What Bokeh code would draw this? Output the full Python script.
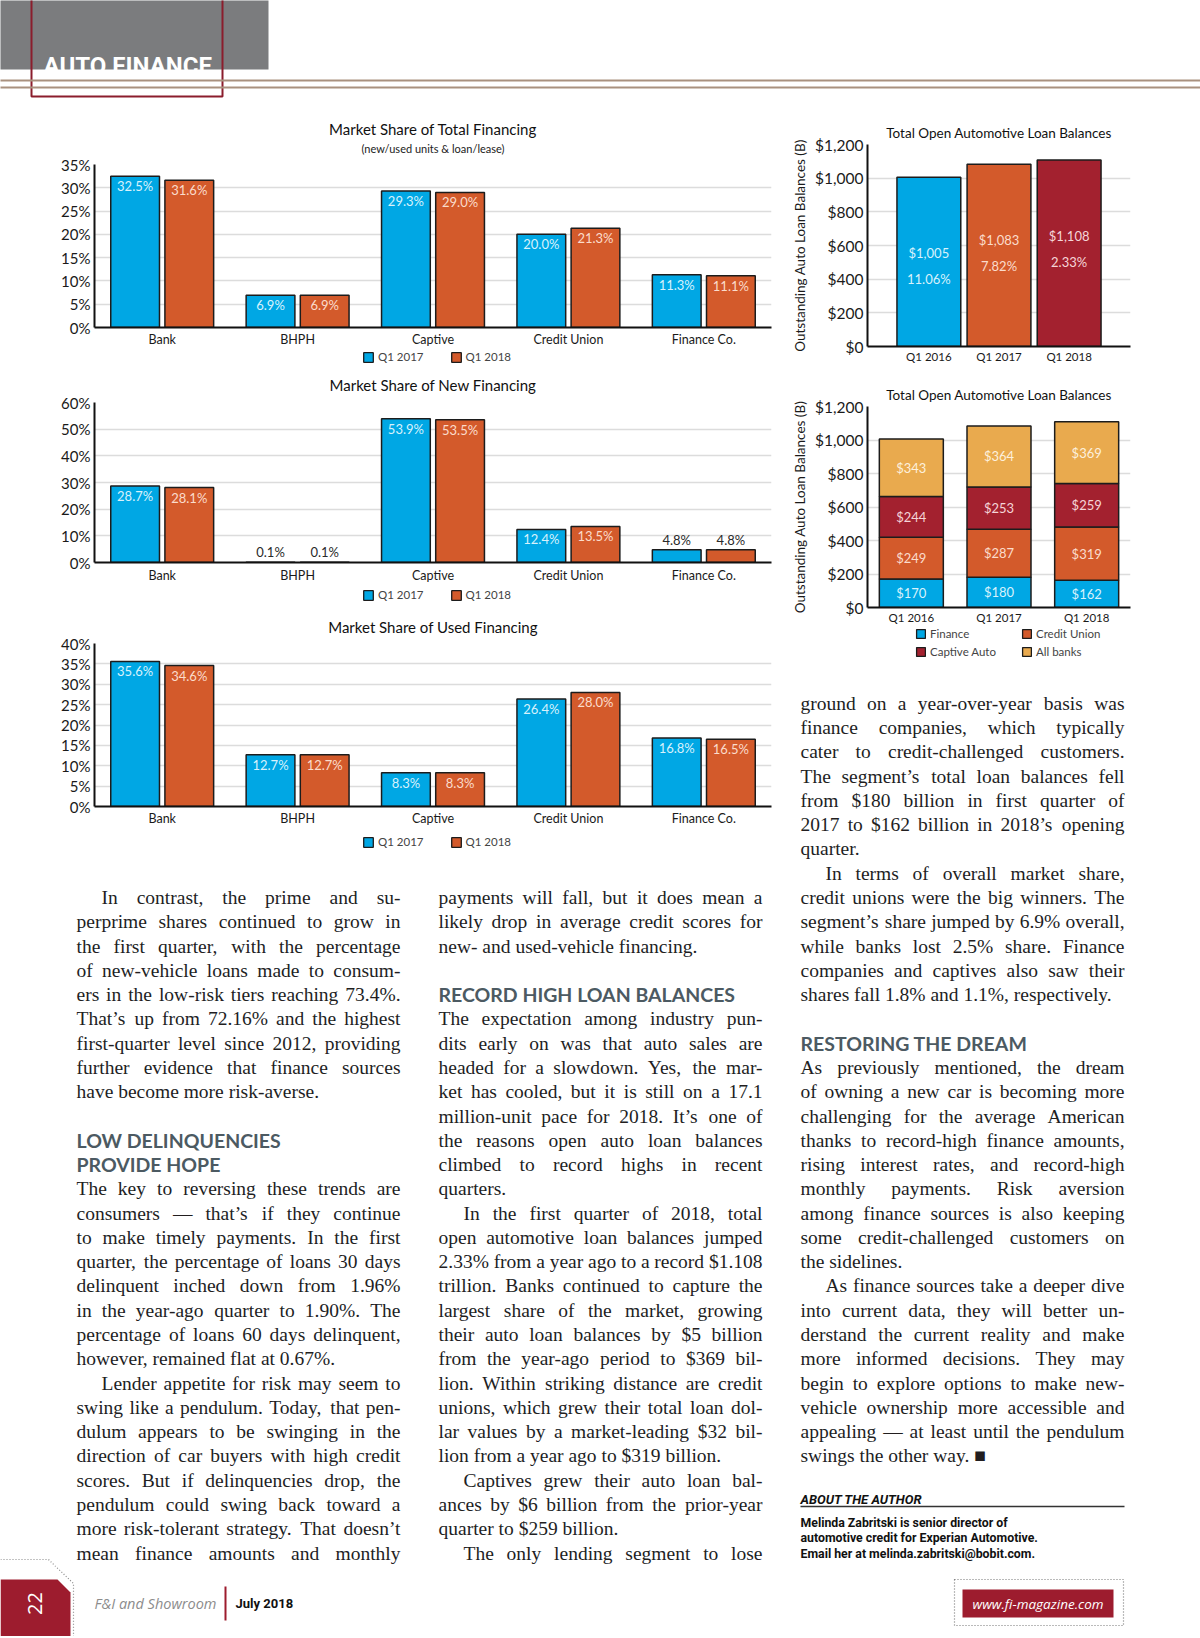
import numpy as np
from bokeh.plotting import figure
from bokeh.models import (ColumnDataSource, FactorRange, Range1d, FixedTicker,
                          PrintfTickFormatter, NumeralTickFormatter, Legend,
                          LegendItem, Title)
from bokeh.layouts import column, row
from bokeh.transform import dodge
from bokeh.core.properties import value
from bokeh.embed import file_html
from bokeh.resources import INLINE

# ---------------- data ----------------
categories = ["Bank", "BHPH", "Captive", "Credit Union", "Finance Co."]
series_names = ["Q1 2017", "Q1 2018"]
total_q1_2017 = [32.5, 6.9, 29.3, 20.0, 11.3]
total_q1_2018 = [31.6, 6.9, 29.0, 21.3, 11.1]
new_q1_2017 = [28.7, 0.1, 53.9, 12.4, 4.8]
new_q1_2018 = [28.1, 0.1, 53.5, 13.5, 4.8]
used_q1_2017 = [35.6, 12.7, 8.3, 26.4, 16.8]
used_q1_2018 = [34.6, 12.7, 8.3, 28.0, 16.5]

quarters = ["Q1 2016", "Q1 2017", "Q1 2018"]
total_balances = [1005, 1083, 1108]
balance_growth = ["11.06%", "7.82%", "2.33%"]
finance_bal = [170, 180, 162]
credit_union_bal = [249, 287, 319]
captive_bal = [244, 253, 259]
banks_bal = [343, 364, 369]
segment_names = ["Finance", "Credit Union", "Captive Auto", "All banks"]

# ---------------- style ----------------
BLUE, ORANGE, DARKRED, GOLD = "#00a7e4", "#d35a2b", "#a3212f", "#e9aa4e"
LBL = {BLUE: "#d8f2fc", ORANGE: "#fbdccb", DARKRED: "#f5d5d8", GOLD: "#fdf0dc"}
EDGE = "#1c1c1c"
FONT = "Lato"
SERIF = "Liberation Serif"
COND = "Roboto"
HEAD_COLOR = "#4c5a62"
TEXT_COLOR = "#221e1f"
BRAND_RED = "#9d1c2e"
LEFT_W, RIGHT_W = 778, 422
SHIFT = -6  # alphabetic baseline correction for page texts


def no_align(p):
    try:
        p.frame_align = False
    except Exception:
        pass
    return p


def style_axes(p, ytick_size="15px", xtick_size="12.5px", x_standoff=4):
    p.outline_line_color = None
    p.xgrid.grid_line_color = None
    p.ygrid.grid_line_color = "#dcdcdc"
    p.ygrid.grid_line_width = 1.5
    for ax in (p.xaxis[0], p.yaxis[0]):
        ax.major_tick_line_color = None
        ax.minor_tick_line_color = None
        ax.major_tick_out = 0
        ax.major_tick_in = 0
        ax.minor_tick_out = 0
        ax.minor_tick_in = 0
        ax.axis_line_color = "#111111"
        ax.axis_line_width = 2
        ax.major_label_text_font = FONT
        ax.major_label_text_color = "#1a1a1a"
    p.yaxis.major_label_text_font_size = ytick_size
    p.yaxis.major_label_standoff = 4
    p.xaxis.major_label_text_font_size = xtick_size
    p.xaxis.major_label_standoff = x_standoff


def add_titles(p, title, subtitle, size="15px", t_standoff=8, s_standoff=8):
    if subtitle:
        p.add_layout(Title(text=subtitle, align="center", text_font=FONT, text_font_size="11px",
                           text_font_style="normal", text_color="#222222", standoff=s_standoff), "above")
    p.add_layout(Title(text=title, align="center", text_font=FONT, text_font_size=size,
                       text_font_style="normal", text_color="#111111", standoff=t_standoff), "above")


def legend_strip(width, height, names, colors, groups, font_size="11.5px", glyph=12,
                 orientation="horizontal", spacing=26):
    """A thin figure that only carries a Bokeh Legend for the chart above it."""
    p = figure(width=width, height=height, x_range=Range1d(0, 1), y_range=Range1d(0, 1),
               output_backend="svg", toolbar_location=None, x_axis_type=None,
               y_axis_type=None, min_border=0, title=None)
    no_align(p)
    p.outline_line_color = None
    # legend proxies: bars with no drawable height (NaN), only their style is used by the legend
    rends = [p.vbar(x=[0.5], top=np.array([np.nan]), width=0.5, fill_color=c, line_color=EDGE,
                    line_width=1.3) for c in colors]
    for idx, loc in groups:
        leg = Legend(items=[LegendItem(label=names[i], renderers=[rends[i]]) for i in idx],
                     orientation=orientation, location=loc, glyph_width=glyph, glyph_height=glyph,
                     label_text_font=FONT, label_text_font_size=font_size, label_standoff=4,
                     spacing=spacing, padding=0, margin=0, border_line_color=None,
                     background_fill_alpha=0, label_height=glyph)
        p.add_layout(leg)
    return p


def share_chart(title, subtitle, v17, v18, ymax, step, height, b_top, b_bottom, t_standoff,
                s_standoff=15, x_standoff=4):
    p = figure(width=LEFT_W, height=height, x_range=FactorRange(factors=categories),
               y_range=Range1d(0, ymax), output_backend="svg", toolbar_location=None, title=None,
               min_border_left=94, min_border_right=7, min_border_top=b_top,
               min_border_bottom=b_bottom)
    no_align(p)
    ppu = (height - b_top - b_bottom) / ymax
    for vals, off, col in ((v17, -0.2, BLUE), (v18, 0.2, ORANGE)):
        src = ColumnDataSource(dict(cat=categories, val=vals))
        p.vbar(x=dodge("cat", off, range=p.x_range), top="val", width=0.36, source=src,
               fill_color=col, line_color=EDGE, line_width=1.5)
        inside = [v * ppu > 22 for v in vals]
        ly = [v - 10 / ppu if ins else v + 10 / ppu for v, ins in zip(vals, inside)]
        lc = [LBL[col] if ins else "#2a2a2a" for ins in inside]
        lsrc = ColumnDataSource(dict(cat=categories, y=ly, text=[f"{v:.1f}%" for v in vals], color=lc))
        p.text(x=dodge("cat", off, range=p.x_range), y="y", text="text", text_color="color",
               source=lsrc, text_align="center", text_baseline="middle",
               text_font=value(FONT), text_font_size=value("13px"))
    p.yaxis.ticker = FixedTicker(ticks=list(range(0, ymax + 1, step)))
    p.yaxis.formatter = PrintfTickFormatter(format="%d%%")
    style_axes(p, x_standoff=x_standoff)
    add_titles(p, title, subtitle, t_standoff=t_standoff, s_standoff=s_standoff)
    return p


p1 = share_chart("Market Share of Total Financing", "(new/used units & loan/lease)",
                 total_q1_2017, total_q1_2018, 35, 5, 239, 54, 22, -16, s_standoff=20)
s1 = legend_strip(LEFT_W, 16, series_names, [BLUE, ORANGE], [([0, 1], (362, 2))])
p2 = share_chart("Market Share of New Financing", None,
                 new_q1_2017, new_q1_2018, 60, 10, 220, 37, 22, 17, x_standoff=5)
s2 = legend_strip(LEFT_W, 20, series_names, [BLUE, ORANGE], [([0, 1], (362, 4))])
p3 = share_chart("Market Share of Used Financing", None,
                 used_q1_2017, used_q1_2018, 40, 5, 225, 38, 24, 15)
s3 = legend_strip(LEFT_W, 24, series_names, [BLUE, ORANGE], [([0, 1], (362, 6))])

# ---- chart 4: totals ----
p4 = figure(width=RIGHT_W, height=258, x_range=FactorRange(factors=quarters, range_padding=0.25),
            y_range=Range1d(0, 1200), output_backend="svg", toolbar_location=None, title=None,
            min_border_left=89, min_border_right=70, min_border_top=34, min_border_bottom=22)
no_align(p4)
ppu4 = 202 / 1200
bar_cols = [BLUE, ORANGE, DARKRED]
src4 = ColumnDataSource(dict(q=quarters, v=total_balances, c=bar_cols,
                             t1=[f"${v:,}" for v in total_balances], t2=balance_growth,
                             y1=[v - 76 / ppu4 for v in total_balances],
                             y2=[v - 102 / ppu4 for v in total_balances],
                             lc=[LBL[c] for c in bar_cols]))
p4.vbar(x="q", top="v", width=0.91, fill_color="c", line_color=EDGE, line_width=1.5, source=src4)
for yk, tk in (("y1", "t1"), ("y2", "t2")):
    p4.text(x="q", y=yk, text=tk, text_color="lc", source=src4, text_align="center",
            text_baseline="middle", text_font=value(FONT), text_font_size=value("13px"))

# ---- chart 5: stacked ----
p5 = figure(width=RIGHT_W, height=260, x_range=FactorRange(factors=quarters),
            y_range=Range1d(0, 1200), output_backend="svg", toolbar_location=None, title=None,
            min_border_left=89, min_border_right=70, min_border_top=38, min_border_bottom=21)
no_align(p5)
stack_keys = ["finance", "credit_union", "captive", "banks"]
stack_cols = [BLUE, ORANGE, DARKRED, GOLD]
src5 = ColumnDataSource(dict(q=quarters, finance=finance_bal, credit_union=credit_union_bal,
                             captive=captive_bal, banks=banks_bal))
p5.vbar_stack(stack_keys, x="q", width=0.73, color=stack_cols, line_color=EDGE,
              line_width=1.5, source=src5)
stack = np.array([finance_bal, credit_union_bal, captive_bal, banks_bal], dtype=float)
tops = np.cumsum(stack, axis=0)
mids = tops - stack / 2
lx, ly, lt, lcol = [], [], [], []
for i, col in enumerate(stack_cols):
    for j, q in enumerate(quarters):
        lx.append(q)
        ly.append(mids[i, j])
        lt.append(f"${int(stack[i, j])}")
        lcol.append(LBL[col])
p5.text(x="q", y="y", text="t", text_color="c",
        source=ColumnDataSource(dict(q=lx, y=ly, t=lt, c=lcol)), text_align="center",
        text_baseline="middle", text_font=value(FONT), text_font_size=value("13px"))

for p, st in ((p4, 7), (p5, 8)):
    p.yaxis.ticker = FixedTicker(ticks=list(range(0, 1201, 200)))
    p.yaxis.formatter = NumeralTickFormatter(format="$0,0")
    style_axes(p, ytick_size="15.5px", xtick_size="11.5px", x_standoff=3)
    p.yaxis.axis_label = "Outstanding Auto Loan Balances (B)"
    p.yaxis.axis_label_text_font = FONT
    p.yaxis.axis_label_text_font_size = "13.5px"
    p.yaxis.axis_label_text_font_style = "normal"
    p.yaxis.axis_label_standoff = 4
    p.yaxis.axis_label_text_color = "#1a1a1a"
    add_titles(p, "Total Open Automotive Loan Balances", None, size="13.5px", t_standoff=st)

s5 = legend_strip(RIGHT_W, 34, segment_names, stack_cols,
                  [([0, 2], (137, 4.5)), ([1, 3], (243, 4.5))], font_size="11.5px", glyph=11,
                  orientation="vertical", spacing=5)

# ---------------- page text ----------------
W = {}
for chars, w in [(" ,.", 250), ("ijlt:;/", 278), ("fr-()’I", 333), ("sJ", 389), ("acez?", 444),
                 ("bdghknopquvxy0123456789$*", 500), ("FPS", 556), ("ELTZ", 611), ("BCR", 667),
                 ("wADGHKNOQUVXY", 722), ("m&", 778), ("%", 833), ("M", 889), ("W", 944),
                 ("—■", 1000), ("'", 180)]:
    for ch in chars:
        W[ch] = w
BODY_PX = 19.5
LINE_H = 24.28


def word_w(s):
    return sum(W.get(ch, 500) for ch in s) * BODY_PX / 1000.0


def canvas(w, h):
    p = figure(width=w, height=h, x_range=Range1d(0, w), y_range=Range1d(h, 0),
               output_backend="svg", toolbar_location=None, x_axis_type=None,
               y_axis_type=None, min_border=0, title=None)
    no_align(p)
    p.outline_line_color = None
    return p


def set_text(p, blocks, x0, x1, y0):
    left = dict(x=[], y=[], t=[])
    right = dict(x=[], y=[], t=[])
    heads = dict(x=[], y=[], t=[])
    k = 0
    for b in blocks:
        kind = b[0]
        if kind == "gap":
            k += 1
            continue
        if kind == "h":
            for line in b[1]:
                heads["x"].append(x0); heads["y"].append(y0 + k * LINE_H); heads["t"].append(line)
                k += 1
            continue
        _, indent, cont, lines = b
        for i, line in enumerate(lines):
            y = y0 + k * LINE_H
            xs = x0 + (25 if (indent and i == 0) else 0)
            last = (i == len(lines) - 1) and not cont
            words = line.split(" ")
            if last or len(words) < 2:
                left["x"].append(xs); left["y"].append(y); left["t"].append(line)
            else:
                ws = [word_w(wd) for wd in words]
                gap = (x1 - xs - sum(ws)) / (len(words) - 1)
                xx = xs
                for wd, wv in zip(words[:-1], ws[:-1]):
                    left["x"].append(xx); left["y"].append(y); left["t"].append(wd)
                    xx += wv + gap
                right["x"].append(x1); right["y"].append(y); right["t"].append(words[-1])
            k += 1
    common = dict(text_font=value(SERIF), text_font_size=value(f"{BODY_PX}px"),
                  text_color=TEXT_COLOR, text_baseline="alphabetic")
    p.text(x="x", y="y", text="t", source=ColumnDataSource(left), text_align="left", **common)
    p.text(x="x", y="y", text="t", source=ColumnDataSource(right), text_align="right", **common)
    p.text(x="x", y="y", text="t", source=ColumnDataSource(heads), text_align="left",
           text_font=value("Lato"), text_font_style="bold", text_font_size=value("19.5px"),
           text_color=HEAD_COLOR, text_baseline="alphabetic")


col_left = [
    ("p", True, False, ["In contrast, the prime and su-", "perprime shares continued to grow in",
                        "the first quarter, with the percentage", "of new-vehicle loans made to consum-",
                        "ers in the low-risk tiers reaching 73.4%.", "That’s up from 72.16% and the highest",
                        "first-quarter level since 2012, providing", "further evidence that finance sources",
                        "have become more risk-averse."]),
    ("gap",),
    ("h", ["LOW DELINQUENCIES", "PROVIDE HOPE"]),
    ("p", False, False, ["The key to reversing these trends are", "consumers — that’s if they continue",
                         "to make timely payments. In the first", "quarter, the percentage of loans 30 days",
                         "delinquent inched down from 1.96%", "in the year-ago quarter to 1.90%. The",
                         "percentage of loans 60 days delinquent,", "however, remained flat at 0.67%."]),
    ("p", True, True, ["Lender appetite for risk may seem to", "swing like a pendulum. Today, that pen-",
                       "dulum appears to be swinging in the", "direction of car buyers with high credit",
                       "scores. But if delinquencies drop, the", "pendulum could swing back toward a",
                       "more risk-tolerant strategy. That doesn’t", "mean finance amounts and monthly"]),
]
col_mid = [
    ("p", False, False, ["payments will fall, but it does mean a", "likely drop in average credit scores for",
                         "new- and used-vehicle financing."]),
    ("gap",),
    ("h", ["RECORD HIGH LOAN BALANCES"]),
    ("p", False, False, ["The expectation among industry pun-", "dits early on was that auto sales are",
                         "headed for a slowdown. Yes, the mar-", "ket has cooled, but it is still on a 17.1",
                         "million-unit pace for 2018. It’s one of", "the reasons open auto loan balances",
                         "climbed to record highs in recent", "quarters."]),
    ("p", True, False, ["In the first quarter of 2018, total", "open automotive loan balances jumped",
                        "2.33% from a year ago to a record $1.108", "trillion. Banks continued to capture the",
                        "largest share of the market, growing", "their auto loan balances by $5 billion",
                        "from the year-ago period to $369 bil-", "lion. Within striking distance are credit",
                        "unions, which grew their total loan dol-", "lar values by a market-leading $32 bil-",
                        "lion from a year ago to $319 billion."]),
    ("p", True, False, ["Captives grew their auto loan bal-", "ances by $6 billion from the prior-year",
                        "quarter to $259 billion."]),
    ("p", True, True, ["The only lending segment to lose"]),
]
col_right = [
    ("p", False, False, ["ground on a year-over-year basis was", "finance companies, which typically",
                         "cater to credit-challenged customers.", "The segment’s total loan balances fell",
                         "from $180 billion in first quarter of", "2017 to $162 billion in 2018’s opening",
                         "quarter."]),
    ("p", True, False, ["In terms of overall market share,", "credit unions were the big winners. The",
                        "segment’s share jumped by 6.9% overall,", "while banks lost 2.5% share. Finance",
                        "companies and captives also saw their", "shares fall 1.8% and 1.1%, respectively."]),
    ("gap",),
    ("h", ["RESTORING THE DREAM"]),
    ("p", False, False, ["As previously mentioned, the dream", "of owning a new car is becoming more",
                         "challenging for the average American", "thanks to record-high finance amounts,",
                         "rising interest rates, and record-high", "monthly payments. Risk aversion",
                         "among finance sources is also keeping", "some credit-challenged customers on",
                         "the sidelines."]),
    ("p", True, False, ["As finance sources take a deeper dive", "into current data, they will better un-",
                        "derstand the current reality and make", "more informed decisions. They may",
                        "begin to explore options to make new-", "vehicle ownership more accessible and",
                        "appealing — at least until the pendulum", "swings the other way. ■"]),
]


def draw_tab(p, ox, oy):
    p.patch(x=[v - ox for v in (0, 57, 70, 70, 0)], y=[v - oy for v in (1579, 1579, 1592, 1645, 1645)],
            fill_color=BRAND_RED, line_color=None)
    p.line(x=[v - ox for v in (0, 48, 73, 73)], y=[v - oy for v in (1559, 1559, 1583, 1645)],
           line_color="#8a8a8a", line_dash="1 2", line_width=1.2)


TXT_TOP_L, TXT_TOP_R = 854, 662
BASE0 = 903 + SHIFT
# left text canvas
ltxt = canvas(LEFT_W, 1565 - TXT_TOP_L)
set_text(ltxt, col_left, 76, 400, BASE0 - TXT_TOP_L)
set_text(ltxt, col_mid, 438, 762, BASE0 - TXT_TOP_L)
draw_tab(ltxt, 0, TXT_TOP_L)

# right text canvas (page x origin 778)
rtxt = canvas(RIGHT_W, 1565 - TXT_TOP_R)
set_text(rtxt, col_right, 22, 346, BASE0 - 8 * LINE_H - TXT_TOP_R)
rtxt.text(x=[22], y=[1504 + SHIFT + 1 - TXT_TOP_R], text=["ABOUT THE AUTHOR"], text_font=value(COND),
          text_font_style="bold italic", text_font_size=value("13px"), text_color="#111111",
          text_baseline="alphabetic")
rtxt.line(x=[22, 346], y=[1506 - TXT_TOP_R] * 2, line_color="#333333", line_width=1.5)
rtxt.text(x=[22, 22, 22], y=[v + SHIFT + 1 - TXT_TOP_R for v in (1527, 1542.5, 1558)],
          text=["Melinda Zabritski is senior director of", "automotive credit for Experian Automotive.",
                "Email her at melinda.zabritski@bobit.com."],
          text_font=value(COND), text_font_style="bold",
          text_font_size=value("12.3px"), text_color="#111111", text_baseline="alphabetic")

# header canvas
header = canvas(1200, 110)
header.quad(left=[-10], right=[268], top=[-10], bottom=[69], fill_color="#7b7c7e", line_color=None)
header.line(x=[31, 31, 222, 222], y=[-10, 96, 96, -10], line_color="#8b1d2c", line_width=2)
header.line(x=[-10, 1210], y=[80, 80], line_color="#a9917f", line_width=2)
header.line(x=[-10, 1210], y=[87, 87], line_color="#a9917f", line_width=2)
header.text(x=[43], y=[71 + SHIFT], text=["AUTO FINANCE"], text_font=value(COND),
            text_font_style="bold", text_font_size=value("24px"), text_color="white",
            text_baseline="alphabetic")

# footer canvas (page origin y 1565)
footer = canvas(1200, 71)
draw_tab(footer, 0, 1565)
footer.text(x=[34], y=[38], text=["22"], angle=np.pi / 2, text_font=value("Open Sans"),
            text_font_size=value("20px"), text_color="white", text_align="center",
            text_baseline="middle")
footer.text(x=[94], y=[38], text=["F&I and Showroom"], text_font=value("Open Sans"),
            text_font_style="italic", text_font_size=value("14.5px"), text_color="#8c8c8c",
            text_baseline="middle")
footer.line(x=[225, 225], y=[21, 55], line_color=BRAND_RED, line_width=2)
footer.text(x=[235], y=[38], text=["July 2018"], text_font=value(COND),
            text_font_style="bold", text_font_size=value("13px"), text_color="#111111",
            text_baseline="middle")
footer.quad(left=[954], right=[1123], top=[14], bottom=[60], fill_color=None,
            line_color="#777777", line_dash="1 2", line_width=1.2)
footer.quad(left=[962], right=[1113], top=[24], bottom=[52], fill_color=BRAND_RED,
            line_color=None)
footer.text(x=[1037.5], y=[38], text=["www.fi-magazine.com"], text_font=value("Open Sans"),
            text_font_style="italic", text_font_size=value("13.5px"), text_color="white",
            text_align="center", text_baseline="middle")

page = column(header,
              row(column(p1, s1, p2, s2, p3, s3, ltxt), column(p4, p5, s5, rtxt)),
              footer)

open("out.html", "w").write(file_html(page, INLINE, title="Auto Finance"))
